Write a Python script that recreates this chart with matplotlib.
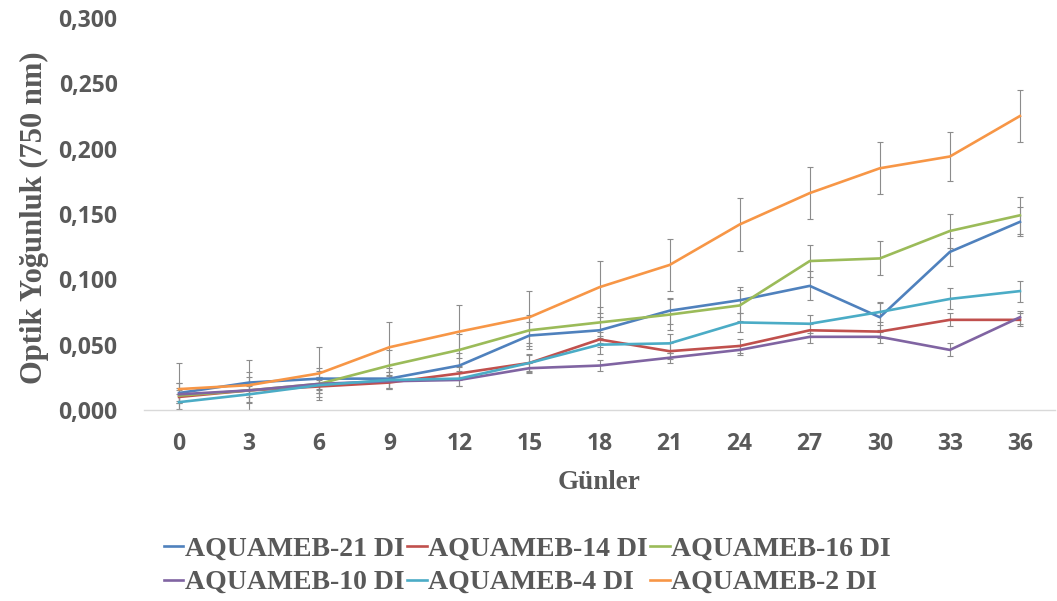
import numpy as np
import matplotlib.pyplot as plt

days = [0, 3, 6, 9, 12, 15, 18, 21, 24, 27, 30, 33, 36]

names = ["AQUAMEB-21 DI", "AQUAMEB-14 DI", "AQUAMEB-16 DI",
         "AQUAMEB-10 DI", "AQUAMEB-4 DI", "AQUAMEB-2 DI"]
colors = ["#4F81BD", "#C0504D", "#9BBB59", "#8064A2", "#4BACC6", "#F79646"]

aq21 = [0.013, 0.021, 0.024, 0.024, 0.034, 0.057, 0.061, 0.076, 0.084, 0.095, 0.071, 0.121, 0.144]
aq14 = [0.010, 0.015, 0.018, 0.021, 0.028, 0.036, 0.054, 0.045, 0.049, 0.061, 0.060, 0.069, 0.069]
aq16 = [0.011, 0.015, 0.020, 0.034, 0.046, 0.061, 0.067, 0.073, 0.080, 0.114, 0.116, 0.137, 0.149]
aq10 = [0.012, 0.015, 0.020, 0.022, 0.023, 0.032, 0.034, 0.040, 0.046, 0.056, 0.056, 0.046, 0.071]
aq4 = [0.006, 0.012, 0.019, 0.023, 0.024, 0.036, 0.050, 0.051, 0.067, 0.066, 0.075, 0.085, 0.091]
aq2 = [0.016, 0.019, 0.028, 0.048, 0.060, 0.071, 0.094, 0.111, 0.142, 0.166, 0.185, 0.194, 0.225]

err21 = [0.008, 0.008, 0.008, 0.008, 0.010, 0.010, 0.010, 0.010, 0.010, 0.011, 0.011, 0.011, 0.011]
err14 = [0.005, 0.005, 0.005, 0.005, 0.005, 0.006, 0.006, 0.006, 0.005, 0.005, 0.005, 0.005, 0.005]
err16 = [0.010, 0.010, 0.010, 0.012, 0.012, 0.012, 0.012, 0.012, 0.012, 0.0125, 0.013, 0.013, 0.014]
err10 = [0.005, 0.005, 0.005, 0.005, 0.005, 0.004, 0.004, 0.004, 0.004, 0.005, 0.005, 0.005, 0.005]
err4 = [0.006, 0.006, 0.006, 0.006, 0.006, 0.007, 0.007, 0.007, 0.007, 0.007, 0.008, 0.008, 0.008]
err2 = [0.020, 0.019, 0.020, 0.019, 0.020, 0.020, 0.020, 0.020, 0.020, 0.020, 0.020, 0.019, 0.020]

series = [aq21, aq14, aq16, aq10, aq4, aq2]
errors = [err21, err14, err16, err10, err4, err2]

grey = "#595959"

fig = plt.figure(figsize=(10.57, 6.01), dpi=100)
ax = fig.add_axes([144 / 1057, 1 - 410 / 601, 911 / 1057, 392 / 601])

lines = []
for vals, err, col, name in zip(series, errors, colors, names):
    ax.errorbar(days, vals, yerr=err, fmt="none", ecolor="#8c8c8c",
                elinewidth=0.8, capsize=2.5, capthick=0.8, zorder=1)
    ln, = ax.plot(days, vals, color=col, lw=1.9, label=name, zorder=2)
    lines.append(ln)

ax.set_xlim(-1.5, 37.5)
ax.set_ylim(0, 0.3)
ax.set_xticks(days)
ax.set_yticks(np.arange(0, 0.301, 0.05))
ax.set_yticklabels([f"{v:.3f}".replace(".", ",") for v in np.arange(0, 0.301, 0.05)])

for s in ["top", "right", "left"]:
    ax.spines[s].set_visible(False)
ax.spines["bottom"].set_color("#d9d9d9")
ax.spines["bottom"].set_linewidth(1)
ax.tick_params(length=0)
ax.tick_params(axis="y", pad=19)
ax.tick_params(axis="x", pad=16)
for lab in ax.get_xticklabels() + ax.get_yticklabels():
    lab.set_fontfamily("Open Sans")
    lab.set_fontweight("bold")
    lab.set_fontsize(16.5)
    lab.set_color(grey)

ax.set_ylabel("Optik Yoğunluk (750 nm)", family="Liberation Serif",
              fontweight="bold", fontsize=22, color=grey)
ax.yaxis.set_label_coords(-0.12, 0.49)
ax.yaxis.label.set_va("center")
ax.set_xlabel("Günler", family="Liberation Serif", fontweight="bold",
              fontsize=19.5, color=grey)
ax.xaxis.set_label_coords(0.5, -0.184)
ax.xaxis.label.set_va("center")

# excel fills legend rows first, matplotlib fills columns first
order = [0, 3, 1, 4, 2, 5]
leg = fig.legend([lines[i] for i in order], [names[i] for i in order],
                 ncol=3, loc="upper left", bbox_to_anchor=(139 / 1057, 1 - 511 / 601),
                 frameon=False, handlelength=0.7, handletextpad=0.05,
                 columnspacing=0.1, labelspacing=0.3,
                 prop={"family": "Liberation Serif", "weight": "bold", "size": 20})
for t in leg.get_texts():
    t.set_color(grey)

fig.savefig("out.png", dpi=100)
